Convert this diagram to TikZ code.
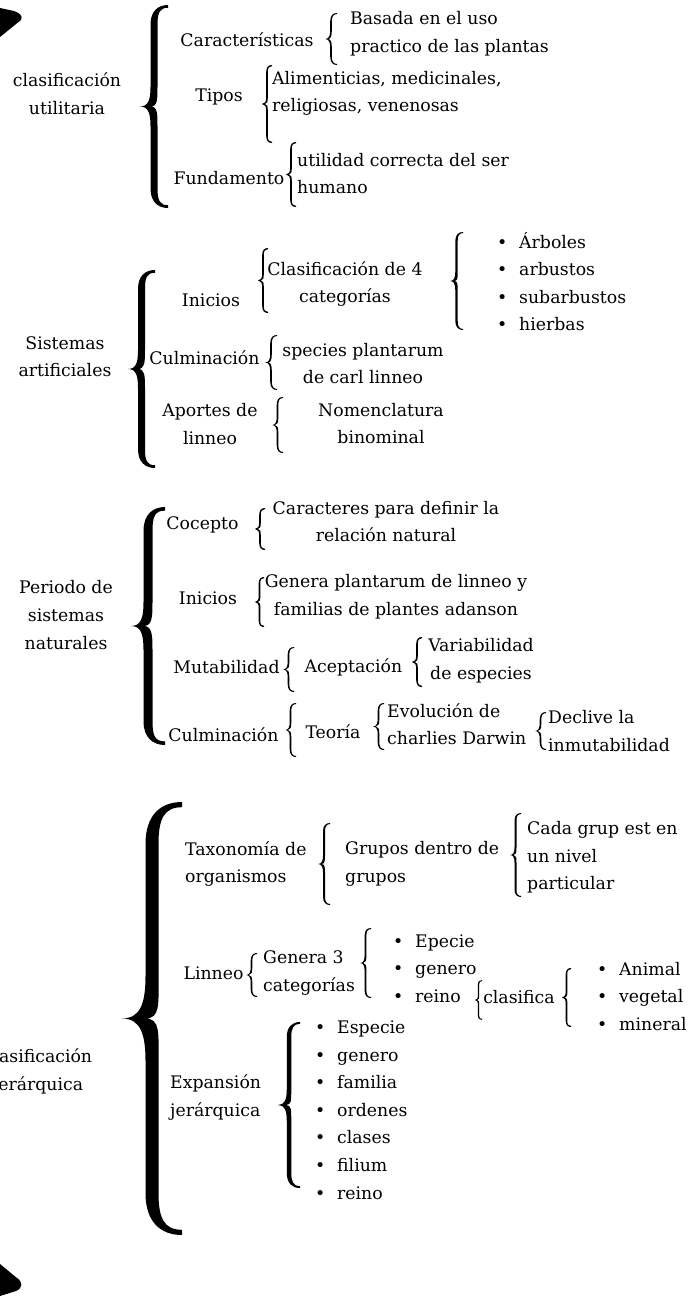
\documentclass[tikz,border=0pt]{standalone}
\usepackage{fontspec}
\setmainfont{DejaVu Serif}
\usetikzlibrary{calc}

\newcommand\bul{\makebox[22pt][l]{\textbullet}}
% filled brace: tip x, top y, bottom y, width, stem thickness
\newcommand\thickbrace[5]{%
  \pgfmathsetmacro\bX{#1}%
  \pgfmathsetmacro\bT{#2}%
  \pgfmathsetmacro\bB{#3}%
  \pgfmathsetmacro\bW{#4}%
  \pgfmathsetmacro\bK{#5}%
  \pgfmathsetmacro\bM{(\bT+\bB)/2}%
  \pgfmathsetmacro\bH{min(0.7*\bW,(\bB-\bT)/4)}%
  \pgfmathsetmacro\bL{\bX+0.5*\bW-0.5*\bK}%
  \pgfmathsetmacro\bR{\bX+0.5*\bW+0.5*\bK}%
  \pgfmathsetmacro\bE{\bX+\bW}%
  \pgfmathsetmacro\bC{min(\bX+1.8*\bK,\bL)}%
  \pgfmathsetmacro\bN{max(0.4*\bK,1.1)}%
  \fill (\bE,\bT) .. controls (\bE-0.35*\bW,\bT) and (\bL,\bT+0.3*\bH) .. (\bL,\bT+\bH)
    -- (\bL,\bM-\bH) .. controls (\bL,\bM-0.35*\bH) and (\bX+0.3*\bW,\bM) .. (\bX,\bM)
    .. controls (\bX+0.3*\bW,\bM) and (\bL,\bM+0.35*\bH) .. (\bL,\bM+\bH)
    -- (\bL,\bB-\bH) .. controls (\bL,\bB-0.3*\bH) and (\bE-0.35*\bW,\bB) .. (\bE,\bB)
    -- (\bE,\bB-\bN) .. controls (\bE-0.3*\bW,\bB-\bN) and (\bR,\bB-0.4*\bH) .. (\bR,\bB-\bH)
    -- (\bR,\bM+\bH) .. controls (\bR,\bM+0.35*\bH) and (\bC+0.25*\bW,\bM) .. (\bC,\bM)
    .. controls (\bC+0.25*\bW,\bM) and (\bR,\bM-0.35*\bH) .. (\bR,\bM-\bH)
    -- (\bR,\bT+\bH) .. controls (\bR,\bT+0.4*\bH) and (\bE-0.3*\bW,\bT+\bN) .. (\bE,\bT+\bN)
    -- cycle;}

\begin{document}
\begin{tikzpicture}[x=1pt, y=-1pt,
    every node/.style = {inner sep=0pt, font=\fontsize{17.3}{27.6}\selectfont},
    mid/.style = {align=center},
    lft/.style = {align=left, anchor=west}
]
    \fill[white, use as bounding box] (0,0) rectangle (699,1296);
    \fill (0,8) -- (14,11) .. controls (20,13) and (23,16) .. (21,20) -- (0,37) -- cycle;
    \fill (0,1264) -- (17,1278) .. controls (23,1282) and (23,1288) .. (16,1291) -- (0,1296) -- cycle;

    \node[mid] (U) at (67,93.5) {clasificación\\utilitaria};
    \node (U1) at (247,40) {Características};
    \node[lft] (U1a) at (350,33.5) {Basada en el uso\\practico de las plantas};
    \node (U2) at (219,97) {Tipos};
    \node[lft] (U2a) at (272,93.5) {Alimenticias, medicinales,\\religiosas, venenosas};
    \node (U3) at (229,178) {Fundamento};
    \node[lft] (U3a) at (297,173.5) {utilidad correcta del ser\\humano};
    \thickbrace{140}{5}{208}{28}{7}
    \thickbrace{325}{13}{65}{12}{1.6}
    \thickbrace{262}{65}{143}{10}{1.6}
    \thickbrace{286}{142}{207}{10}{1.6}

    \node[mid] (A) at (65,356.5) {Sistemas\\artificiales};
    \node (A1) at (211,300) {Inicios};
    \node[mid] (A1a) at (345,284) {Clasificación de 4\\categorías};
    \node[lft] (A1b) at (497,281.5) {\bul Árboles\\\bul arbustos\\\bul subarbustos\\\bul hierbas};
    \node (A2) at (204.5,358) {Culminación};
    \node[mid] (A2a) at (363,363.5) {species plantarum\\de carl linneo};
    \node[mid] (A3) at (210,424) {Aportes de\\linneo};
    \node[mid] (A3a) at (381,423.5) {Nomenclatura\\binominal};
    \thickbrace{128}{270}{468}{27}{7}
    \thickbrace{258}{248}{313}{10}{1.6}
    \thickbrace{450}{232}{330}{13}{2.4}
    \thickbrace{265}{335}{390}{12}{1.6}
    \thickbrace{272}{397}{453}{11}{1.6}

    \node[mid] (N) at (66,615) {Periodo de\\sistemas\\naturales};
    \node (N1) at (202.5,525) {Cocepto};
    \node[mid] (N1a) at (386,521.5) {Caracteres para definir la\\relación natural};
    \node (N2) at (208,598) {Inicios};
    \node[mid] (N2a) at (396,596.5) {Genera plantarum de linneo y\\familias de plantes adanson};
    \node (N3) at (226.5,667) {Mutabilidad};
    \node (N3a) at (353.5,667) {Aceptación};
    \node[mid] (N3b) at (481,660.5) {Variabilidad\\de especies};
    \node (N4) at (223.5,735) {Culminación};
    \node (N4a) at (333,732) {Teoría};
    \node[lft] (N4b) at (387,724) {Evolución de\\charlies Darwin};
    \node[lft] (N4c) at (548,731) {Declive la\\inmutabilidad};
    \thickbrace{131}{507}{745}{34}{9}
    \thickbrace{255}{508}{550}{10}{1.6}
    \thickbrace{255}{577}{627}{9}{1.6}
    \thickbrace{283}{647}{692}{11}{1.6}
    \thickbrace{412}{637}{687}{10}{1.6}
    \thickbrace{285}{703}{757}{11}{1.6}
    \thickbrace{373}{703}{750}{11}{1.6}
    \thickbrace{535}{712}{750}{11}{1.6}

    \node[mid] (J) at (38,1071.5) {clasificación\\jerárquica};
    \node[lft] (J1) at (185,864) {Taxonomía de\\organismos};
    \node[lft] (J1a) at (345,864) {Grupos dentro de\\grupos};
    \node[lft] (J1b) at (527,857.5) {Cada grup est en\\un nivel\\particular};
    \node (J2) at (213.5,973) {Linneo};
    \node[lft] (J2a) at (263,973) {Genera 3\\categorías};
    \node[lft] (J2b) at (393,968.5) {\bul Epecie\\\bul genero\\\bul reino};
    \node (J2c) at (519,997) {clasifica};
    \node[lft] (J2d) at (597,996.5) {\bul Animal\\\bul vegetal\\\bul mineral};
    \node[lft] (J3) at (170,1097.5) {Expansión\\jerárquica};
    \node[lft] (J3a) at (315,1110) {\bul Especie\\\bul genero\\\bul familia\\\bul ordenes\\\bul clases\\\bul filium\\\bul reino};
    \thickbrace{122}{802}{1235}{60}{13}
    \thickbrace{318}{823}{905}{12}{2}
    \thickbrace{510}{813}{897}{11}{2}
    \thickbrace{246}{953}{997}{11}{1.6}
    \thickbrace{360}{928}{998}{11}{1.8}
    \thickbrace{475}{980}{1020}{7}{1.2}
    \thickbrace{562}{968}{1027}{9}{1.6}
    \thickbrace{278}{1022}{1188}{22}{4.5}
\end{tikzpicture}
\end{document}
